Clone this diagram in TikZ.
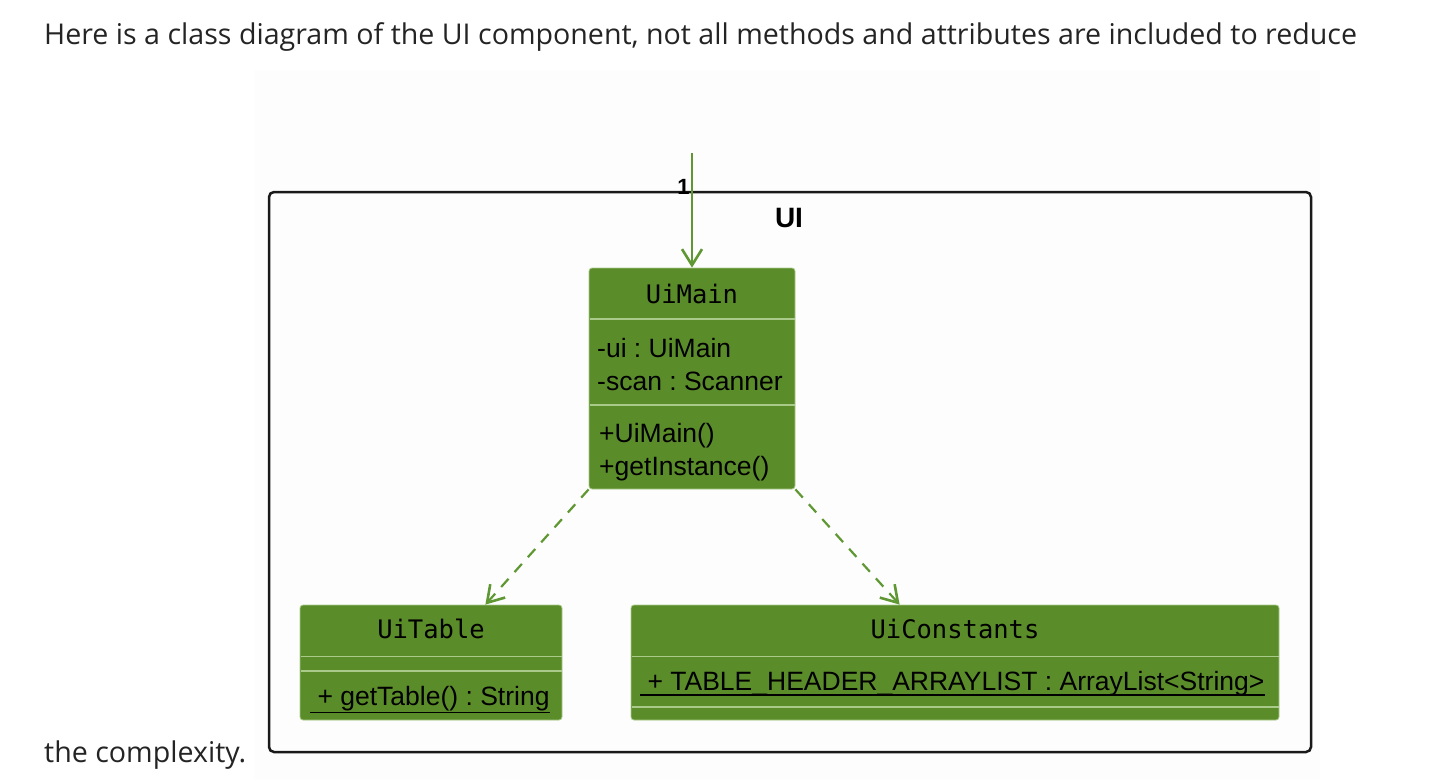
\documentclass[tikz,border=0pt]{standalone}
\usepackage{fontspec}
\setmainfont{Open Sans}
\setsansfont{Liberation Sans}
\setmonofont{DejaVu Sans Mono}
\usetikzlibrary{arrows.meta}
\definecolor{umlgreen}{RGB}{91,140,42}
\definecolor{umlline}{RGB}{170,202,138}
\definecolor{umlarrow}{RGB}{95,152,50}
\definecolor{bodytext}{RGB}{36,36,36}
\frenchspacing

\begin{document}
\begin{tikzpicture}[x=1pt,y=-1pt,
	bodyline/.style={font=\fontsize{28.6}{28.6}\selectfont, text=bodytext, anchor=base west, inner sep=0pt},
	pkgbox/.style={draw=black!90, line width=2.5pt, rounded corners=5pt, inner sep=0pt},
	classbox/.style={draw=umlline, fill=umlgreen, line width=0.8pt, rounded corners=3pt, inner sep=0pt},
	sepline/.style={draw=umlline, line width=1.3pt},
	classname/.style={font=\fontsize{25.5}{25.5}\ttfamily, anchor=base, inner sep=0pt},
	member/.style={font=\fontsize{26.5}{26.5}\sffamily, anchor=base west, inner sep=0pt},
	uline/.style={draw=black, line width=1.6pt},
	assoc/.style={draw=umlarrow, line width=2.2pt, -{Straight Barb[length=16pt,width=20pt,line width=2.6pt]}},
	dep/.style={assoc, dash pattern=on 11pt off 9pt}]
			%%%%% START %%%%%
			\useasboundingbox (0,0) rectangle (1436,779);
			\fill[black!0.6] (254,70) rectangle (1320,779);
			
			\node[bodyline] (intro) at (44,45) {Here is a class diagram of the UI component, not all methods and attributes are included to reduce};
			\node[bodyline] (outro) at (44,762) {the complexity.};
			
			\node[pkgbox, minimum width=1042pt, minimum height=560pt] (uipkg) at (790,472) {};
			\node[font=\fontsize{28}{28}\sffamily\bfseries, anchor=base, inner sep=0pt] (uilabel) at (789,227) {UI};
			
			% UiMain
			\node[classbox, minimum width=206pt, minimum height=221pt] (uimain) at (692,378.5) {};
			\node[classname] (uimainname) at (692,303) {UiMain};
			\draw[sepline] (589.5,319) -- (794.5,319);
			\node[member] (uiattr) at (597,357) {-ui : UiMain};
			\node[member] (scanattr) at (597,390) {-scan : Scanner};
			\draw[sepline] (589.5,405) -- (794.5,405);
			\node[member] (ctor) at (599,442) {+UiMain()};
			\node[member] (getinst) at (599,475) {+getInstance()};
			
			% UiTable
			\node[classbox, minimum width=262pt, minimum height=115pt] (uitable) at (431,662.5) {};
			\node[classname] (uitablename) at (431,638) {UiTable};
			\draw[sepline] (300.5,656.5) -- (561.5,656.5);
			\draw[sepline] (300.5,671) -- (561.5,671);
			\node[member] (gettable) at (310,705) {\ + getTable() : String};
			\draw[uline] ([yshift=-7.5pt]gettable.base west) -- ([yshift=-7.5pt]gettable.base east);
			
			% UiConstants
			\node[classbox, minimum width=648pt, minimum height=115pt] (uiconst) at (955,662.5) {};
			\node[classname] (uiconstname) at (955,638) {UiConstants};
			\draw[sepline] (631.5,656.5) -- (1278.5,656.5);
			\node[member] (header) at (640,690) {\ + TABLE\_HEADER\_ARRAYLIST : ArrayList<String>};
			\draw[uline] ([yshift=-5pt]header.base west) -- ([yshift=-5pt]header.base east);
			\draw[sepline] (631.5,707) -- (1278.5,707);
			
			% connectors
			\coordinate (entry) at (692,153);
			\draw[assoc] (entry) -- (uimain.north);
			\node[font=\fontsize{22}{22}\sffamily\bfseries, anchor=base, inner sep=0pt] (mult) at (683.5,194) {1};
			\draw[dep] (uimain.south west) -- ([xshift=-77pt]uitable.north east);
			\draw[dep] (uimain.south east) -- ([xshift=269pt]uiconst.north west);
			%%%%% END %%%%%
\end{tikzpicture}
\end{document}
